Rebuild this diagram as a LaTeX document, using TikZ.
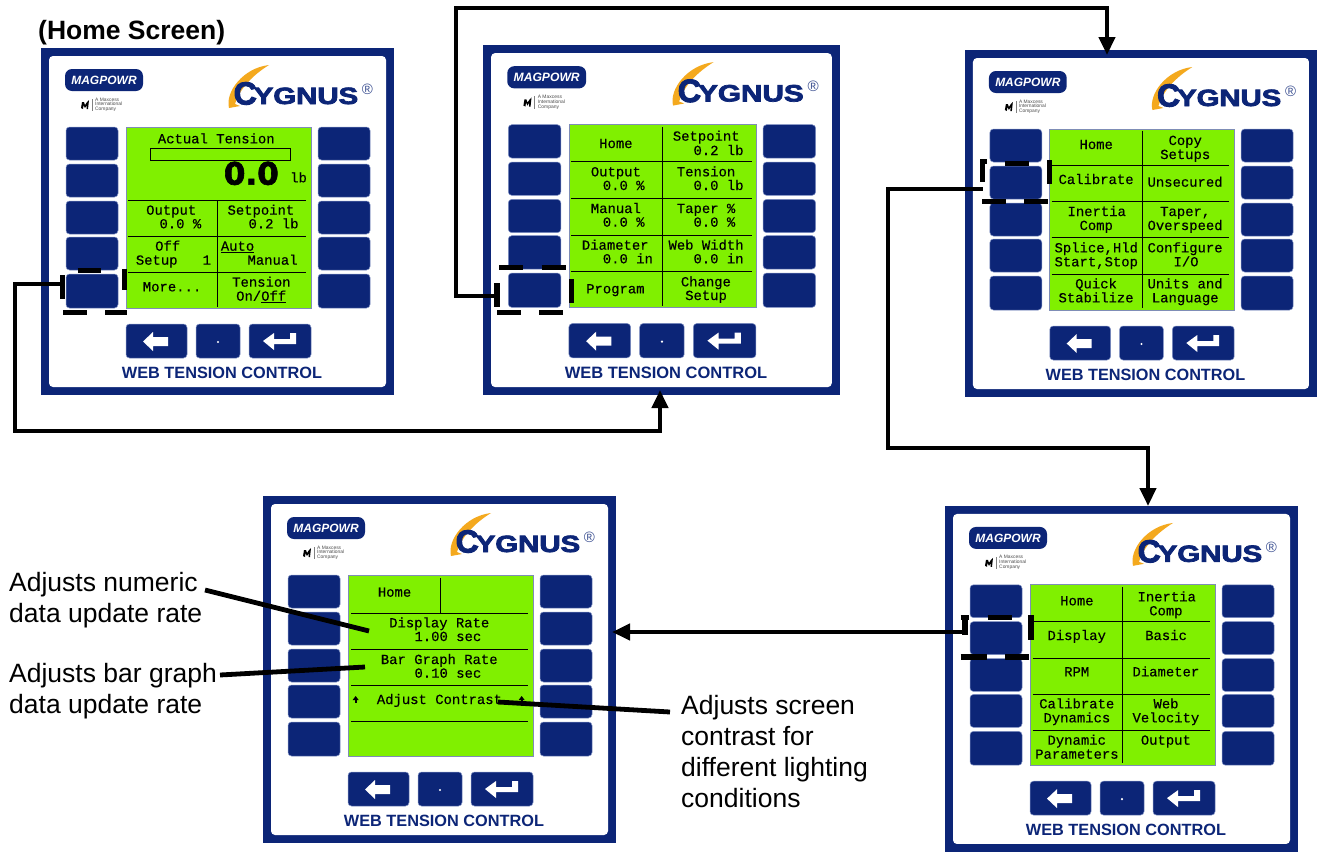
\documentclass[tikz,border=0pt]{standalone}
\usepackage{fontspec}
\setmainfont{Liberation Sans}
\newfontfamily\lcdf[FakeBold=0.35]{Liberation Mono}
\newfontfamily\cyg[FakeBold=3]{Liberation Sans Bold}
\newfontfamily\bigz[FakeBold=2]{DejaVu Sans Bold}
\usetikzlibrary{arrows.meta}
\definecolor{navy}{HTML}{0C2577}
\definecolor{halo}{HTML}{7F90C4}
\definecolor{lcdg}{HTML}{80F000}
\definecolor{swoosh}{HTML}{F4A91E}
\newcount\tcnt
\tikzset{
  x=1pt,y=-1pt,
  frame/.style={fill=navy,draw=none,inner sep=0,anchor=north west,transform shape},
  btn/.style={fill=navy,draw=halo,line width=.5pt,rounded corners=3.5pt},
  lcdbox/.style={fill=lcdg,draw=halo!80!gray,line width=.6pt},
  lcdtxt/.style={anchor=base west,inner sep=0,font=\lcdf\fontsize{13.9}{14}\selectfont,text=black},
  lcdrule/.style={black,line width=1pt},
  sel/.style={black,line width=5.6pt},
  conn/.style={black,line width=4.3pt,-{Triangle[length=18pt,width=16pt]}},
  lead/.style={black,line width=4.8pt},
  note/.style={anchor=west,inner sep=0,align=left,font=\fontsize{26.5}{31}\selectfont},
  tag/.style={inner sep=0,transform shape},
}
% zoom origin: coordinates below are read from 3x crops
\newcommand{\zorg}[2]{\def\ox{#1}\def\oy{#2}}
\newcommand{\lcd}[3]{\global\advance\tcnt by 1
  \node[lcdtxt] (t\the\tcnt) at ({\ox+#1/3},{\oy+#2/3+4}) {#3};}
\newcommand{\rul}[4]{\draw[lcdrule] ({\ox+#1/3},{\oy+#2/3}) -- ({\ox+#3/3},{\oy+#4/3});}
\newcommand{\seg}[4]{\draw[sel] ({\ox+#1/3},{\oy+#2/3}) -- ({\ox+#3/3},{\oy+#4/3});}
\newcommand{\upmark}[2]{\fill ({\ox+(#1-9)/3},{\oy+(#2+2)/3}) -- ({\ox+(#1+9)/3},{\oy+(#2+2)/3}) -- ({\ox+#1/3},{\oy+(#2-10)/3}) -- cycle;
  \fill ({\ox+(#1-3)/3},{\oy+#2/3}) rectangle ({\ox+(#1+3)/3},{\oy+(#2+12)/3});}
% panel: name, x, y, xscale, yscale
\newcommand{\panel}[5]{%
\begin{scope}[shift={(#2,#3)},xscale=#4,yscale=#5]
  \node[frame,minimum width=353pt,minimum height=347pt] (#1) at (0,0) {};
  \fill[white,rounded corners=4pt] (8,8) rectangle (345,339);
  % logo pill
  \fill[navy,rounded corners=7pt] (24,21) rectangle (102,43);
  \node[tag,text=white,font=\bfseries\itshape\fontsize{12}{12}\selectfont] (#1mag) at (63,32) {MAGPOWR};
  % maxcess mark
  \fill[black] (40,60) -- (41,54) -- (43,54) -- (44,57) -- (46,54) -- (48,52) -- (47,61) -- (45.5,61) -- (45.8,57) -- (44,60) -- (42.5,57) -- (42,61) -- cycle;
  \draw[gray,line width=.3pt] (51,51) -- (51,63);
  \node[tag,anchor=north west,align=left,text=black!70,font=\fontsize{4.9}{4.9}\selectfont] (#1mx) at (54,49.5) {A Maxcess\\International\\Company};
  % cygnus
  \fill[swoosh] (188,60) .. controls (184,44) and (202,20) .. (228,17) .. controls (212,27) and (199,40) .. (194,56) -- (199,58) -- cycle;
  \node[tag,anchor=base west,text=navy,font=\cyg\fontsize{32}{32}\selectfont] (#1c) at (192.5,56.5) {C};
  \node[tag,anchor=base west,text=navy,xscale=1.25,font=\cyg\fontsize{23.5}{24}\selectfont] (#1y) at (212.5,56) {YGNUS};
  \node[tag,text=navy!80,font=\fontsize{15}{15}\selectfont] (#1r) at (326.5,41) {®};
  % side keys
  \foreach \a/\b in {79/112,116/149,153/186,189/222,226/260}{
    \draw[btn] (25,\a) rectangle (77,\b);
    \draw[btn] (277,\a) rectangle (329,\b);
  }
  % lcd
  \draw[lcdbox] (85,79) rectangle (270,260);
  % bottom keys
  \draw[btn] (85,276) rectangle (146,310);
  \draw[btn] (155,276) rectangle (199,310);
  \draw[btn] (208,276) rectangle (270,310);
  \fill[white] (102,293.5) -- (112,284) -- (112,289) -- (127,289) -- (127,298) -- (112,298) -- (112,303) -- cycle;
  \fill[white] (177,294) circle (1.2);
  \fill[white] (222,293) -- (233,285) -- (233,291) -- (249,291) -- (249,285) -- (255,285) -- (255,296) -- (233,296) -- (233,302) -- cycle;
  \node[tag,text=navy,font=\bfseries\fontsize{16.3}{16}\selectfont] (#1w) at (181,325) {WEB TENSION CONTROL};
\end{scope}}
\begin{document}
\begin{tikzpicture}
\useasboundingbox (0,0) rectangle (1317,852);
\fill[white] (0,0) rectangle (1317,852);

\node[anchor=base west,inner sep=0,font=\bfseries\fontsize{26.5}{26}\selectfont] (hs) at (38,39) {(Home Screen)};

\panel{pa}{41}{48}{1}{1}
\panel{pb}{483}{45}{1.011}{1.009}
\panel{pc}{965}{50}{0.997}{1}
\panel{pd}{263}{496}{1}{1}
\panel{pe}{945}{506}{1}{0.997}

% ---- panel A
\zorg{30}{40}
\lcd{383}{298}{Actual Tension}
\draw[black,line width=1pt] ({\ox+361/3},{\oy+326/3}) rectangle ({\ox+781/3},{\oy+361/3});
\node[anchor=base west,inner sep=0,font=\bigz\fontsize{31}{31}\selectfont] (big) at ({\ox+581/3},{\oy+434/3}) {0.0};
\lcd{780}{415}{lb}
\rul{293}{480}{827}{480}\rul{293}{590}{827}{590}\rul{293}{698}{827}{698}\rul{562}{480}{562}{800}
\lcd{348}{512}{Output}\lcd{388}{553}{0.0 \%}
\lcd{592}{512}{Setpoint}\lcd{655}{553}{0.2 lb}
\lcd{375}{620}{Off}\lcd{317}{662}{Setup\ \ \ 1}
\lcd{572}{620}{\underline{Auto}}\lcd{652}{662}{Manual}
\lcd{338}{742}{More...}
\lcd{606}{728}{Tension}\lcd{618}{770}{On/\underline{Off}}
\seg{143}{692}{213}{692}\seg{283}{686}{283}{750}\seg{100}{818}{170}{818}\seg{225}{818}{291}{818}\seg{97}{705}{97}{777}
\coordinate (sa) at ({\ox+97/3},{\oy+733/3});

% ---- panel B
\zorg{480}{40}
\rul{273}{365}{816}{365}\rul{273}{475}{816}{475}\rul{273}{585}{816}{585}\rul{273}{695}{816}{695}\rul{547}{262}{547}{797}
\lcd{357}{312}{Home}
\lcd{578}{290}{Setpoint}\lcd{640}{333}{0.2 lb}
\lcd{332}{397}{Output}\lcd{368}{438}{0.0 \%}
\lcd{590}{397}{Tension}\lcd{640}{438}{0.0 lb}
\lcd{332}{507}{Manual}\lcd{368}{548}{0.0 \%}
\lcd{590}{507}{Taper \%}\lcd{640}{548}{0.0 \%}
\lcd{305}{617}{Diameter}\lcd{368}{658}{0.0 in}
\lcd{565}{617}{Web Width}\lcd{640}{658}{0.0 in}
\lcd{318}{748}{Program}
\lcd{602}{727}{Change}\lcd{615}{768}{Setup}
\seg{58}{682}{130}{682}\seg{185}{682}{257}{682}\seg{275}{718}{275}{790}\seg{52}{818}{122}{818}\seg{177}{818}{249}{818}\seg{51}{730}{51}{800}
\coordinate (sb) at ({\ox+51/3},{\oy+767/3});

% ---- panel C
\zorg{960}{40}
\rul{275}{377}{808}{377}\rul{275}{485}{808}{485}\rul{275}{593}{808}{593}\rul{275}{702}{808}{702}\rul{546}{272}{546}{803}
\lcd{358}{315}{Home}
\lcd{625}{303}{Copy}\lcd{600}{345}{Setups}
\lcd{295}{420}{Calibrate}
\lcd{562}{428}{Unsecured}
\lcd{322}{516}{Inertia}\lcd{358}{558}{Comp}
\lcd{600}{516}{Taper,}\lcd{562}{558}{Overspeed}
\lcd{283}{625}{Splice,Hld}\lcd{283}{667}{Start,Stop}
\lcd{562}{625}{Configure}\lcd{640}{667}{I/O}
\lcd{345}{733}{Quick}\lcd{295}{775}{Stabilize}
\lcd{562}{733}{Units and}\lcd{575}{775}{Language}
\seg{135}{370}{207}{370}\seg{268}{361}{268}{433}\seg{67}{484}{139}{484}\seg{193}{484}{265}{484}\seg{68}{361}{68}{427}\seg{60}{364}{80}{364}
\coordinate (sc) at ({\ox+68/3},{\oy+448/3});

% ---- panel D
\zorg{260}{490}
\rul{273}{369}{803}{369}\rul{273}{478}{803}{478}\rul{273}{587}{803}{587}\rul{273}{694}{803}{694}\rul{541}{265}{541}{369}
\lcd{353}{308}{Home}
\lcd{387}{400}{Display Rate}\lcd{463}{441}{1.00 sec}
\lcd{362}{510}{Bar Graph Rate}\lcd{463}{551}{0.10 sec}
\lcd{350}{630}{Adjust Contrast}
\upmark{287}{628}\upmark{785}{628}

% ---- panel E
\zorg{945}{500}
\rul{263}{365}{795}{365}\rul{263}{474}{795}{474}\rul{263}{583}{795}{583}\rul{263}{690}{795}{690}\rul{532}{262}{532}{790}
\lcd{345}{304}{Home}
\lcd{577}{292}{Inertia}\lcd{612}{334}{Comp}
\lcd{307}{408}{Display}\lcd{600}{408}{Basic}
\lcd{357}{517}{RPM}\lcd{562}{517}{Diameter}
\lcd{282}{613}{Calibrate}\lcd{295}{655}{Dynamics}
\lcd{625}{613}{Web}\lcd{562}{655}{Velocity}
\lcd{307}{722}{Dynamic}\lcd{270}{764}{Parameters}
\lcd{587}{722}{Output}
\seg{128}{353}{200}{353}\seg{258}{345}{258}{421}\seg{47}{471}{127}{471}\seg{181}{471}{253}{471}\seg{60}{347}{60}{405}\seg{47}{352}{72}{352}
\coordinate (se) at (963,632);

% ---- connectors
\coordinate (a1) at (15,431);
\coordinate (a2) at (660,431);
\coordinate (tb) at (660,390);
\coordinate (b1) at (456,8);
\coordinate (b2) at (1107,8);
\coordinate (tc) at (1107,55);
\coordinate (c1) at (888,448);
\coordinate (c2) at (1148,448);
\coordinate (te) at (1148,506);
\coordinate (td) at (612,632);
\draw[conn] (sa) -| (a1) -- (a2) -- (tb);
\draw[conn] (sb) -| (b1) -- (b2) -- (tc);
\draw[conn] (sc) -| (c1) -- (c2) -- (te);
\draw[conn] (se) -- (td);

% ---- notes
\node[note] (n1) at (9,600.5) {Adjusts numeric\\data update rate};
\node[note] (n2) at (9,691.5) {Adjusts bar graph\\data update rate};
\node[note] (n3) at (681,751.5) {Adjusts screen\\contrast for\\different lighting\\conditions};
\coordinate (l1a) at (205,590);
\coordinate (l1b) at (369,631);
\coordinate (l2a) at (220,675);
\coordinate (l2b) at (365,667);
\coordinate (l3a) at (670,712);
\coordinate (l3b) at (498,702);
\draw[lead] (l1a) -- (l1b);
\draw[lead] (l2a) -- (l2b);
\draw[lead] (l3a) -- (l3b);
\end{tikzpicture}
\end{document}
